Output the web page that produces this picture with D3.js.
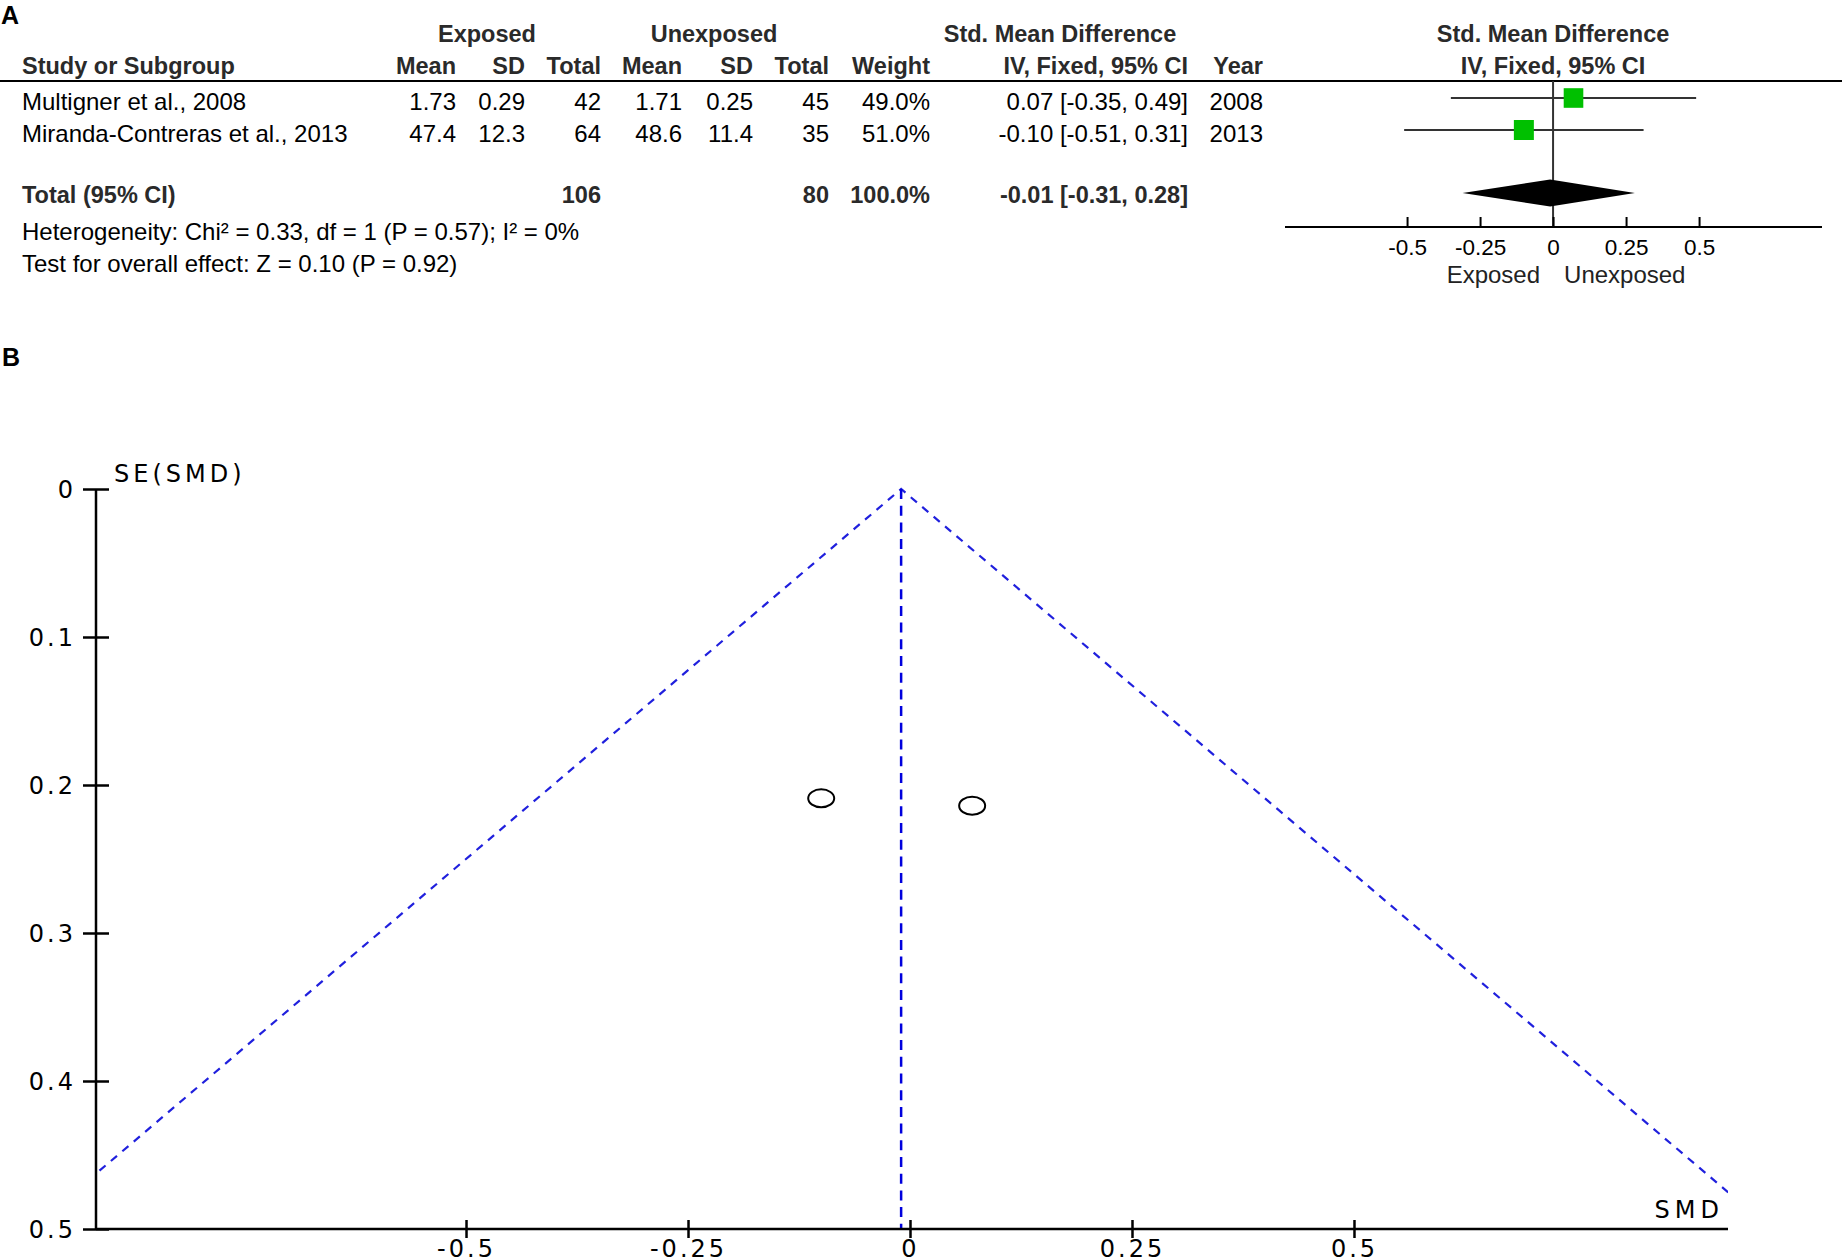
<!DOCTYPE html>
<html>
<head>
<meta charset="utf-8">
<script src="https://cdn.jsdelivr.net/npm/d3@7"></script>
<style>
  html, body { margin: 0; padding: 0; background: #fff; }
  svg { display: block; }
  .reg { font-family: "Liberation Sans", Arial, sans-serif; font-size: 24px; fill: #000; }
  .bold { font-family: "Liberation Sans", Arial, sans-serif; font-size: 23.5px; font-weight: bold; fill: #2a2a2a; }
  .fp { font-family: "DejaVu Sans", sans-serif; font-size: 24px; fill: #000; letter-spacing: 3px; }
</style>
</head>
<body>
<script>
// ---------- DATA ----------
const studies      = ["Multigner et al., 2008", "Miranda-Contreras et al., 2013"];
const expMean      = ["1.73", "47.4"];
const expSD        = ["0.29", "12.3"];
const expTotal     = [42, 64];
const unexpMean    = ["1.71", "48.6"];
const unexpSD      = ["0.25", "11.4"];
const unexpTotal   = [45, 35];
const weights      = [49.0, 51.0];
const smd          = [0.07, -0.10];
const ciLow        = [-0.35, -0.51];
const ciHigh       = [0.49, 0.31];
const years        = [2008, 2013];
const totalExp     = 106;
const totalUnexp   = 80;
const pooledSMD    = -0.01;
const pooledLow    = -0.31;
const pooledHigh   = 0.28;
const heterogeneityText = "Heterogeneity: Chi\u00B2 = 0.33, df = 1 (P = 0.57); I\u00B2 = 0%";
const overallText  = "Test for overall effect: Z = 0.10 (P = 0.92)";
const forestTicks  = [-0.5, -0.25, 0, 0.25, 0.5];
const forestTickLabels = ["-0.5", "-0.25", "0", "0.25", "0.5"];
const favourLabels = ["Exposed", "Unexposed"];
// funnel plot
const funnelSMD    = [0.07, -0.10];
const funnelSE     = [0.214, 0.209];
const funnelXTicks = [-0.5, -0.25, 0, 0.25, 0.5];
const funnelXTickLabels = ["-0.5", "-0.25", "0", "0.25", "0.5"];
const funnelYTicks = [0, 0.1, 0.2, 0.3, 0.4, 0.5];
const funnelYTickLabels = ["0", "0.1", "0.2", "0.3", "0.4", "0.5"];

// ---------- SETUP ----------
const W = 1842, H = 1259;
const svg = d3.select("body").append("svg").attr("width", W).attr("height", H);

const loc = d3.formatLocale({ decimal: ".", thousands: ",", grouping: [3], currency: ["", ""], minus: "-" });
const fmtSMD = v => loc.format(".2f")(v);
const fmtCI = (m, l, h) => `${fmtSMD(m)} [${fmtSMD(l)}, ${fmtSMD(h)}]`;
const fmtW = v => loc.format(".1f")(v) + "%";

// ---------- PANEL A ----------
svg.append("text").attr("x", 1).attr("y", 24)
  .style("font-family", "Liberation Sans, Arial, sans-serif").style("font-weight", "bold")
  .style("font-size", "25px").text("A");

const hdr1 = 42, hdr2 = 74, ruleY = 81;
const rowY = d3.scaleLinear().domain([0, 1]).range([98, 130]);
const txtOff = 11.5;

const col = { study: 22, eMean: 456, eSD: 525, eTot: 601, uMean: 682, uSD: 753, uTot: 829,
              weight: 930, ci: 1188, year: 1263 };

function txt(cls, x, y, s, anchor) {
  return svg.append("text").attr("class", cls).attr("x", x).attr("y", y)
    .attr("text-anchor", anchor || "start").text(s);
}

const fX = d3.scaleLinear().domain([-0.918, 0.921]).range([1285, 1822]);

// header
txt("bold", 487, hdr1, "Exposed", "middle");
txt("bold", 714, hdr1, "Unexposed", "middle");
txt("bold", 1060, hdr1, "Std. Mean Difference", "middle");
txt("bold", fX(0), hdr1, "Std. Mean Difference", "middle");
txt("bold", col.study, hdr2, "Study or Subgroup");
txt("bold", col.eMean, hdr2, "Mean", "end");
txt("bold", col.eSD, hdr2, "SD", "end");
txt("bold", col.eTot, hdr2, "Total", "end");
txt("bold", col.uMean, hdr2, "Mean", "end");
txt("bold", col.uSD, hdr2, "SD", "end");
txt("bold", col.uTot, hdr2, "Total", "end");
txt("bold", col.weight, hdr2, "Weight", "end");
txt("bold", col.ci, hdr2, "IV, Fixed, 95% CI", "end");
txt("bold", col.year, hdr2, "Year", "end");
txt("bold", fX(0), hdr2, "IV, Fixed, 95% CI", "middle");

svg.append("line").attr("x1", 0).attr("x2", W).attr("y1", ruleY).attr("y2", ruleY)
  .attr("stroke", "#000").attr("stroke-width", 2);

// study rows
studies.forEach((s, i) => {
  const y = rowY(i) + txtOff;
  txt("reg", col.study, y, s);
  txt("reg", col.eMean, y, expMean[i], "end");
  txt("reg", col.eSD, y, expSD[i], "end");
  txt("reg", col.eTot, y, expTotal[i], "end");
  txt("reg", col.uMean, y, unexpMean[i], "end");
  txt("reg", col.uSD, y, unexpSD[i], "end");
  txt("reg", col.uTot, y, unexpTotal[i], "end");
  txt("reg", col.weight, y, fmtW(weights[i]), "end");
  txt("reg", col.ci, y, fmtCI(smd[i], ciLow[i], ciHigh[i]), "end");
  txt("reg", col.year, y, years[i], "end");
});

// total row
const totRow = 2.97;
const yTot = rowY(totRow) + 9.5;
txt("bold", col.study, yTot, "Total (95% CI)");
txt("bold", col.eTot, yTot, totalExp, "end");
txt("bold", col.uTot, yTot, totalUnexp, "end");
txt("bold", col.weight, yTot, fmtW(d3.sum(weights)), "end");
txt("bold", col.ci, yTot, fmtCI(pooledSMD, pooledLow, pooledHigh), "end");
txt("reg", col.study, 240, heterogeneityText);
txt("reg", col.study, 272, overallText);

// forest plot
const axisY = 227;
svg.append("line").attr("x1", fX(0)).attr("x2", fX(0)).attr("y1", ruleY).attr("y2", axisY)
  .attr("stroke", "#333").attr("stroke-width", 2);
const rows = svg.append("g");
studies.forEach((s, i) => {
  rows.append("line").attr("x1", fX(ciLow[i])).attr("x2", fX(ciHigh[i]))
    .attr("y1", rowY(i)).attr("y2", rowY(i)).attr("stroke", "#333").attr("stroke-width", 2);
});
const sq = d3.scaleSqrt().domain([0, 51]).range([0, 20]);
rows.selectAll("rect.sq").data(smd).join("rect").attr("class", "sq")
  .attr("x", (d, i) => fX(d) - sq(weights[i]) / 2)
  .attr("y", (d, i) => rowY(i) - sq(weights[i]) / 2)
  .attr("width", (d, i) => sq(weights[i]))
  .attr("height", (d, i) => sq(weights[i]))
  .attr("fill", "#00c000");
const dY = rowY(totRow), dH = 13.5;
svg.append("path")
  .attr("d", `M${fX(pooledLow)},${dY} L${fX(pooledSMD)},${dY - dH} L${fX(pooledHigh)},${dY} L${fX(pooledSMD)},${dY + dH} Z`)
  .attr("fill", "#000");

const fAxis = d3.axisBottom(fX).tickValues(forestTicks).tickSize(0).tickFormat((d, i) => forestTickLabels[i]);
const fAxG = svg.append("g").attr("transform", `translate(0,${axisY})`).call(fAxis);
fAxG.select(".domain").attr("stroke", "#000").attr("stroke-width", 2).attr("d", `M${fX.range()[0]},0H${fX.range()[1]}`);
fAxG.selectAll(".tick text").attr("y", 0).attr("dy", 28)
  .style("font-family", "Liberation Sans, Arial, sans-serif").style("font-size", "22.5px").attr("fill", "#000");
fAxG.selectAll(".tick").append("line").attr("y1", -10).attr("y2", 0).attr("stroke", "#000").attr("stroke-width", 2);

txt("reg", fX(0) - 13, 283, favourLabels[0], "end").style("fill", "#222");
txt("reg", fX(0) + 11, 283, favourLabels[1], "start").style("fill", "#222");

// ---------- PANEL B ----------
svg.append("text").attr("x", 2).attr("y", 366)
  .style("font-family", "Liberation Sans, Arial, sans-serif").style("font-weight", "bold")
  .style("font-size", "25px").text("B");

const x = d3.scaleLinear().domain([-0.9167, 0.9212]).range([96, 1728]);
const y = d3.scaleLinear().domain([0, 0.5]).range([489, 1229]);

svg.append("clipPath").attr("id", "plotclip").append("rect")
  .attr("x", x.range()[0]).attr("y", y.range()[0] - 5)
  .attr("width", x.range()[1] - x.range()[0]).attr("height", y.range()[1] - y.range()[0] + 5);

const seMax = 0.5;
const line = d3.line().x(d => x(d[0])).y(d => y(d[1]));
const g = svg.append("g").attr("clip-path", "url(#plotclip)");
g.append("path").datum([[pooledSMD - 1.96 * seMax, seMax], [pooledSMD, 0], [pooledSMD + 1.96 * seMax, seMax]])
  .attr("d", line).attr("fill", "none").attr("stroke", "#2020dd").attr("stroke-width", 2.2)
  .attr("stroke-dasharray", "8,7");
g.append("path").datum([[pooledSMD, 0], [pooledSMD, seMax]])
  .attr("d", line).attr("fill", "none").attr("stroke", "#0000dd").attr("stroke-width", 2.5)
  .attr("stroke-dasharray", "10,6.7");

svg.selectAll("ellipse.pt").data(funnelSMD).join("ellipse").attr("class", "pt")
  .attr("cx", d => x(d)).attr("cy", (d, i) => y(funnelSE[i]))
  .attr("rx", 13).attr("ry", 9).attr("fill", "none").attr("stroke", "#000").attr("stroke-width", 2);

// axes
const yAx = svg.append("g").attr("transform", `translate(${x.range()[0]},0)`)
  .call(d3.axisLeft(y).tickValues(funnelYTicks).tickSize(0).tickFormat((d, i) => funnelYTickLabels[i]));
yAx.select(".domain").attr("stroke", "#000").attr("stroke-width", 2.5).attr("d", `M0,${y.range()[0]}V${y.range()[1]}`);
yAx.selectAll(".tick line").remove();
yAx.selectAll(".tick").append("line").attr("x1", -13).attr("x2", 13).attr("stroke", "#000").attr("stroke-width", 2.5);
yAx.selectAll(".tick text").attr("x", -20).attr("class", "fp").attr("dy", "0.36em");

const xAx = svg.append("g").attr("transform", `translate(0,${y.range()[1]})`)
  .call(d3.axisBottom(x).tickValues(funnelXTicks).tickSize(0).tickFormat((d, i) => funnelXTickLabels[i]));
xAx.select(".domain").attr("stroke", "#000").attr("stroke-width", 2.5).attr("d", `M${x.range()[0]},0H${x.range()[1]}`);
xAx.selectAll(".tick").append("line").attr("y1", -9).attr("y2", 9).attr("stroke", "#000").attr("stroke-width", 2.5);
xAx.selectAll(".tick text").attr("class", "fp").attr("y", 0).attr("dy", 28);

svg.append("text").attr("class", "fp").attr("x", 114).attr("y", 482).text("SE(SMD)").style("letter-spacing", "4px");
svg.append("text").attr("class", "fp").attr("x", 1724).attr("y", 1218).attr("text-anchor", "end").text("SMD").style("letter-spacing", "5px");
</script>
</body>
</html>
